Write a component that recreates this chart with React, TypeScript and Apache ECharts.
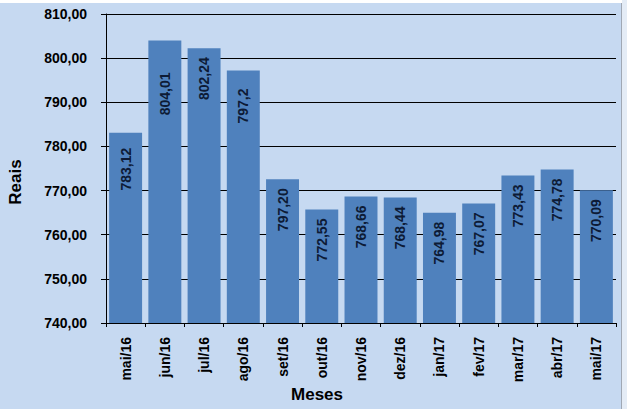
import React, { useEffect, useRef } from "react";
import * as echarts from "echarts";

const categories = ["mai/16", "jun/16", "jul/16", "ago/16", "set/16", "out/16", "nov/16", "dez/16", "jan/17", "fev/17", "mar/17", "abr/17", "mai/17"];
const values = [783.12, 804.01, 802.24, 797.2, 772.55, 765.7, 768.66, 768.44, 764.98, 767.07, 773.43, 774.78, 770.09];
const labels = ["783,12", "804,01", "802,24", "797,2", "797,20", "772,55", "768,66", "768,44", "764,98", "767,07", "773,43", "774,78", "770,09"];
const yMin = 740;
const yMax = 810;
const yStep = 10;

const FONT = '"Liberation Sans", Arial, sans-serif';

export default function App() {
  const ref = useRef<HTMLDivElement>(null);
  useEffect(() => {
    document.body.style.margin = "0";
    const chart = echarts.init(ref.current!, null, { renderer: "svg" });
    const labelDist = (i: number) => (i === 1 ? 32 : i === 0 ? 15 : i === 3 ? 18 : 9);
    chart.setOption({
      animation: false,
      backgroundColor: "#C6D9F1",
      grid: { left: 106, right: 11, top: 14, bottom: 86 },
      xAxis: {
        type: "category",
        data: categories,
        axisLine: { show: true, lineStyle: { color: "#000", width: 1 } },
        axisTick: { show: true, alignWithLabel: false, length: 4, lineStyle: { color: "#000" } },
        axisLabel: {
          interval: 0,
          rotate: 90,
          margin: 14,
          color: "#000",
          fontFamily: FONT,
          fontWeight: "bold",
          fontSize: 14,
        },
      },
      yAxis: {
        type: "value",
        min: yMin,
        max: yMax,
        interval: yStep,
        axisLine: { show: true, lineStyle: { color: "#000", width: 1 } },
        axisTick: { show: true, inside: false, length: 5, lineStyle: { color: "#000" } },
        splitLine: { show: true, lineStyle: { color: "#000", width: 1 } },
        axisLabel: {
          margin: 19,
          color: "#000",
          fontFamily: FONT,
          fontWeight: "bold",
          fontSize: 14,
          formatter: (v: number) => v.toFixed(2).replace(".", ","),
        },
      },
      series: [
        {
          type: "bar",
          barCategoryGap: "16%",
          itemStyle: { color: "#4F81BD" },
          data: values.map((v, i) => ({
            value: v,
            label: {
              show: true,
              position: "insideTop",
              distance: labelDist(i),
              rotate: 90,
              align: "right",
              verticalAlign: "middle",
              color: "#0d1b36",
              fontFamily: FONT,
              fontWeight: "bold",
              fontSize: 14,
              formatter: () => labels[i],
            },
          })),
        },
      ],
      graphic: [
        { type: "rect", shape: { x: 0, y: 0, width: 627, height: 3 }, style: { fill: "#FFFFFF" }, silent: true },
        { type: "rect", shape: { x: 622, y: 0, width: 5, height: 409 }, style: { fill: "#E4ECF6" }, silent: true },
        { type: "line", shape: { x1: 621.5, y1: 3, x2: 621.5, y2: 409 }, style: { stroke: "#A0A8B4", lineWidth: 1 }, silent: true },
        {
          type: "text",
          x: 15.5,
          y: 182,
          rotation: Math.PI / 2,
          style: { text: "Reais", fill: "#000", font: `bold 17px ${FONT}`, align: "center", verticalAlign: "middle" },
          silent: true,
        },
        {
          type: "text",
          x: 317,
          y: 394,
          style: { text: "Meses", fill: "#000", font: `bold 17px ${FONT}`, align: "center", verticalAlign: "middle" },
          silent: true,
        },
      ],
    });
    return () => chart.dispose();
  }, []);
  return <div ref={ref} style={{ width: 627, height: 409 }} />;
}
